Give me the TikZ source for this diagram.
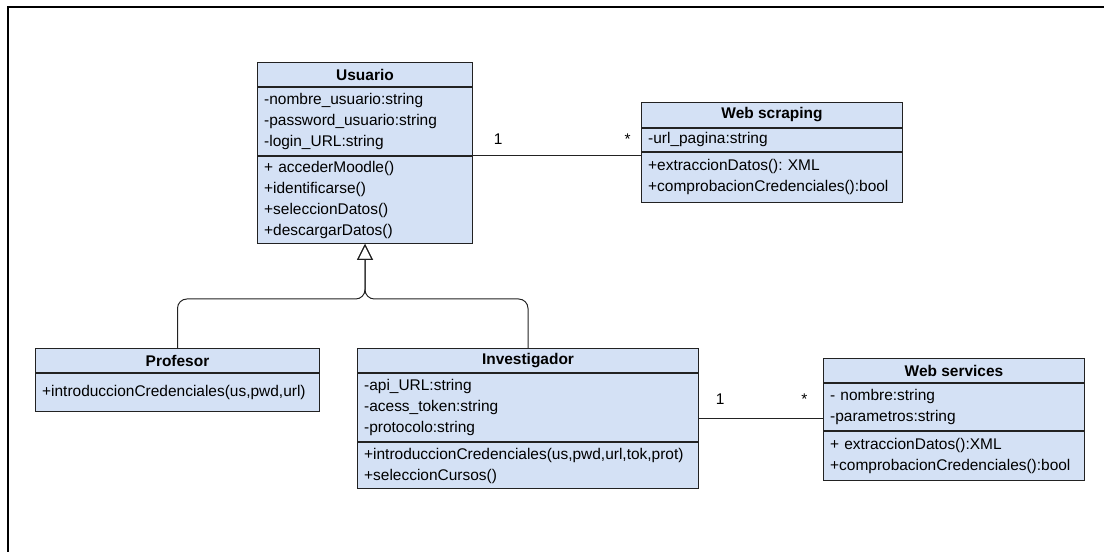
\documentclass[tikz,border=0pt]{standalone}
\usepackage{fontspec}
\setmainfont{Liberation Sans}
\usetikzlibrary{arrows.meta,positioning,calc}
\definecolor{umlfill}{HTML}{D4E1F5}
\definecolor{umlline}{HTML}{222222}
\newcommand{\umlfont}{\fontsize{11.6pt}{15.75pt}\selectfont}
\frenchspacing
\tikzset{
  umlhead/.style={draw=umlline,fill=umlfill,line width=0.75pt,font=\umlfont\bfseries,
    minimum width=#1,minimum height=18pt,inner sep=0pt,anchor=north west},
  umlpart/.style 2 args={draw=umlline,fill=umlfill,line width=0.75pt,align=left,
    text width=#1,minimum height=#2,inner xsep=5pt,inner ysep=0pt},
  mult/.style={inner sep=0pt},
  assoc/.style={draw=umlline,line width=0.75pt},
  inherit/.style={draw=umlline,line width=0.75pt,rounded corners=7pt,
    -{Triangle[open,length=12pt,width=12pt]}},
}

\begin{document}
\begin{tikzpicture}[x=0.75pt,y=-0.75pt,font=\umlfont]
\useasboundingbox (0,0) rectangle (1104,552);
\draw[line width=1.5pt] (8,552) -- (8,7) -- (1104,7);
% Usuario
\node (usuario) [umlhead=161.25pt] at (257,62) {Usuario};
\node (usuario-attr) [umlpart={151.25pt}{51pt},below=0pt of usuario]
  {-nombre\_usuario:string\\-password\_usuario:string\\-login\_URL:string};
\node (usuario-ops) [umlpart={151.25pt}{65.25pt},below=0pt of usuario-attr]
  {+ accederMoodle()\\+identificarse()\\+seleccionDatos()\\+descargarDatos()};
% Web scraping
\node (scraping) [umlhead=195.75pt,minimum height=18.75pt] at (641,102) {Web scraping};
\node (scraping-attr) [umlpart={185.75pt}{17.25pt},below=0pt of scraping]
  {-url\_pagina:string};
\node (scraping-ops) [umlpart={185.75pt}{37.5pt},below=0pt of scraping-attr]
  {+extraccionDatos(): XML\\+comprobacionCredenciales():bool};
% Profesor
\node (profesor) [umlhead=213pt] at (35,348) {Profesor};
\node (profesor-ops) [umlpart={203pt}{28.5pt},below=0pt of profesor]
  {+introduccionCredenciales(us,pwd,url)};
% Investigador
\node (investigador) [umlhead=255.75pt] at (357,348) {Investigador};
\node (investigador-attr) [umlpart={245.75pt}{51pt},below=0pt of investigador]
  {-api\_URL:string\\-acess\_token:string\\-protocolo:string};
\node (investigador-ops) [umlpart={245.75pt}{34.5pt},below=0pt of investigador-attr]
  {+introduccionCredenciales(us,pwd,url,tok,prot)\\+seleccionCursos()};
% Web services
\node (services) [umlhead=195.75pt] at (823,358) {Web services};
\node (services-attr) [umlpart={185.75pt}{35.25pt},below=0pt of services]
  {- nombre:string\\-parametros:string};
\node (services-ops) [umlpart={185.75pt}{36.75pt},below=0pt of services-attr]
  {+ extraccionDatos():XML\\+comprobacionCredenciales():bool};
%
\coordinate (join) at ($(usuario-ops.south)+(0,55)$);
\coordinate (inv-east) at ($(investigador.north east)!.5!(investigador-ops.south east)$);
%
\draw[inherit] (profesor.north) |- (join) -- (usuario-ops.south);
\draw[inherit] (investigador.north) |- (join) -- (usuario-ops.south);
\path[assoc] (usuario-attr.south east) -- node[mult,pos=0.15,above=8pt] {1}
  node[mult,pos=0.92,above=8pt] {*} (usuario-attr.south east -| scraping-attr.west);
\path[assoc] (inv-east) -- node[mult,pos=0.17,above=10pt] {1}
  node[mult,pos=0.85,above=10pt] {*} (inv-east -| services.west);
%
\end{tikzpicture}
\end{document}
